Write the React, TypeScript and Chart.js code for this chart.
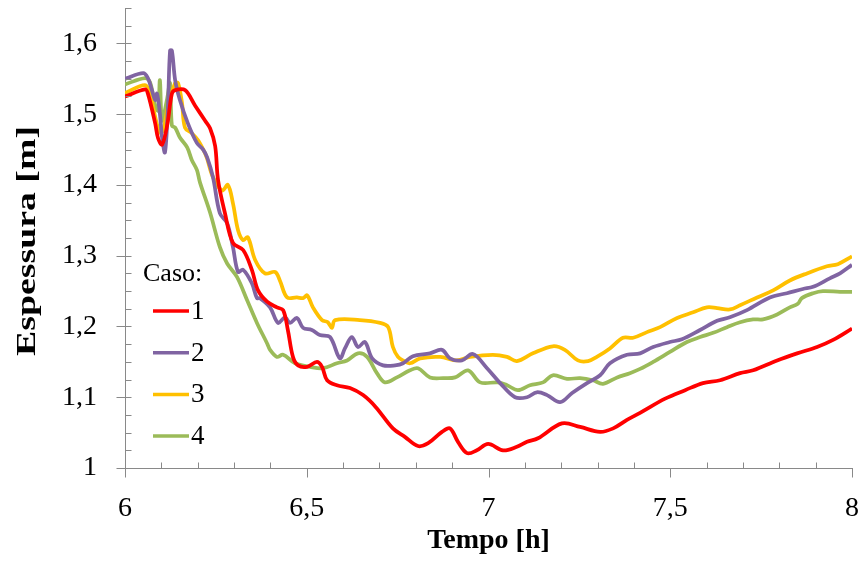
import React, { useEffect, useRef } from "react";
import { Chart, registerables } from "chart.js";

Chart.register(...registerables);

const SERIES_LABELS = ["1", "2", "3", "4"];
const SERIES_COLORS = ["#FF0000", "#8064A2", "#FFC000", "#9BBB59"];
const LEGEND_TITLE = "Caso:";
const X_TITLE = "Tempo [h]";
const Y_TITLE = "Espessura [m]";

const t1 = [6.0, 6.055, 6.063, 6.083, 6.091, 6.102, 6.116, 6.129, 6.138, 6.165, 6.193, 6.22, 6.234, 6.248, 6.256, 6.275, 6.297, 6.325, 6.349, 6.366, 6.391, 6.418, 6.435, 6.448, 6.462, 6.476, 6.501, 6.528, 6.542, 6.556, 6.583, 6.619, 6.655, 6.69, 6.737, 6.77, 6.806, 6.834, 6.872, 6.894, 6.916, 6.941, 6.968, 6.999, 7.04, 7.078, 7.106, 7.136, 7.202, 7.252, 7.307, 7.343, 7.381, 7.417, 7.486, 7.541, 7.59, 7.637, 7.692, 7.728, 7.794, 7.849, 7.904, 7.948, 8.0];
const v1 = [1.525, 1.535, 1.529, 1.487, 1.466, 1.457, 1.484, 1.529, 1.534, 1.534, 1.512, 1.491, 1.48, 1.455, 1.407, 1.36, 1.318, 1.308, 1.28, 1.251, 1.235, 1.227, 1.223, 1.195, 1.157, 1.145, 1.143, 1.15, 1.143, 1.124, 1.117, 1.113, 1.103, 1.086, 1.056, 1.044, 1.031, 1.035, 1.051, 1.056, 1.037, 1.021, 1.025, 1.034, 1.025, 1.03, 1.037, 1.042, 1.063, 1.058, 1.051, 1.056, 1.068, 1.078, 1.098, 1.11, 1.12, 1.124, 1.134, 1.138, 1.152, 1.162, 1.171, 1.181, 1.197];

const t2 = [6.0, 6.05, 6.063, 6.074, 6.083, 6.088, 6.096, 6.102, 6.11, 6.118, 6.124, 6.129, 6.138, 6.151, 6.173, 6.198, 6.215, 6.226, 6.242, 6.261, 6.281, 6.297, 6.311, 6.325, 6.349, 6.363, 6.371, 6.399, 6.421, 6.44, 6.454, 6.473, 6.49, 6.514, 6.536, 6.564, 6.591, 6.605, 6.624, 6.641, 6.66, 6.68, 6.71, 6.743, 6.765, 6.792, 6.839, 6.872, 6.894, 6.927, 6.957, 6.996, 7.032, 7.073, 7.106, 7.133, 7.161, 7.197, 7.23, 7.271, 7.307, 7.334, 7.381, 7.417, 7.453, 7.499, 7.532, 7.582, 7.629, 7.664, 7.711, 7.774, 7.821, 7.865, 7.893, 7.939, 7.967, 8.0];
const v2 = [1.55, 1.558, 1.551, 1.534, 1.52, 1.529, 1.501, 1.467, 1.446, 1.51, 1.59, 1.59, 1.548, 1.52, 1.487, 1.459, 1.45, 1.439, 1.411, 1.36, 1.346, 1.312, 1.277, 1.28, 1.261, 1.24, 1.24, 1.227, 1.205, 1.213, 1.205, 1.212, 1.198, 1.195, 1.188, 1.185, 1.155, 1.169, 1.185, 1.171, 1.178, 1.155, 1.145, 1.145, 1.148, 1.158, 1.162, 1.167, 1.155, 1.152, 1.161, 1.141, 1.12, 1.1, 1.1, 1.107, 1.103, 1.093, 1.106, 1.12, 1.131, 1.148, 1.16, 1.162, 1.171, 1.178, 1.182, 1.195, 1.208, 1.213, 1.223, 1.241, 1.247, 1.253, 1.256, 1.268, 1.275, 1.287];

const t3 = [6.0, 6.055, 6.069, 6.083, 6.096, 6.105, 6.118, 6.138, 6.146, 6.157, 6.165, 6.184, 6.201, 6.22, 6.226, 6.242, 6.267, 6.283, 6.297, 6.311, 6.325, 6.338, 6.358, 6.385, 6.413, 6.426, 6.446, 6.473, 6.49, 6.501, 6.517, 6.542, 6.558, 6.569, 6.578, 6.646, 6.702, 6.724, 6.737, 6.751, 6.765, 6.784, 6.812, 6.867, 6.913, 6.949, 7.012, 7.051, 7.078, 7.122, 7.177, 7.21, 7.246, 7.274, 7.298, 7.334, 7.37, 7.398, 7.436, 7.472, 7.519, 7.563, 7.601, 7.629, 7.664, 7.692, 7.739, 7.783, 7.829, 7.876, 7.931, 7.961, 8.0];
const v3 = [1.53, 1.541, 1.529, 1.496, 1.474, 1.477, 1.51, 1.544, 1.544, 1.515, 1.481, 1.473, 1.463, 1.445, 1.437, 1.411, 1.392, 1.4, 1.374, 1.336, 1.322, 1.326, 1.294, 1.275, 1.277, 1.265, 1.241, 1.241, 1.24, 1.244, 1.227, 1.209, 1.206, 1.198, 1.209, 1.209, 1.205, 1.199, 1.171, 1.157, 1.152, 1.148, 1.155, 1.157, 1.152, 1.157, 1.16, 1.157, 1.151, 1.162, 1.172, 1.167, 1.152, 1.151, 1.157, 1.169, 1.184, 1.184, 1.192, 1.199, 1.212, 1.22, 1.227, 1.226, 1.224, 1.23, 1.241, 1.251, 1.265, 1.275, 1.285, 1.288, 1.299];

const t4 = [6.0, 6.055, 6.069, 6.083, 6.091, 6.096, 6.102, 6.116, 6.124, 6.129, 6.138, 6.151, 6.171, 6.184, 6.198, 6.206, 6.234, 6.261, 6.281, 6.308, 6.336, 6.363, 6.391, 6.399, 6.418, 6.435, 6.468, 6.509, 6.545, 6.583, 6.611, 6.641, 6.666, 6.693, 6.715, 6.748, 6.784, 6.806, 6.839, 6.875, 6.908, 6.944, 6.977, 7.026, 7.051, 7.081, 7.114, 7.15, 7.177, 7.216, 7.252, 7.287, 7.315, 7.354, 7.389, 7.417, 7.453, 7.499, 7.546, 7.582, 7.618, 7.656, 7.692, 7.728, 7.755, 7.794, 7.829, 7.851, 7.862, 7.893, 7.92, 7.967, 8.0];
const v4 = [1.542, 1.551, 1.545, 1.512, 1.505, 1.548, 1.491, 1.522, 1.544, 1.484, 1.481, 1.467, 1.453, 1.435, 1.421, 1.404, 1.361, 1.312, 1.289, 1.27, 1.237, 1.205, 1.176, 1.167, 1.157, 1.16, 1.148, 1.143, 1.141, 1.148, 1.152, 1.162, 1.157, 1.134, 1.121, 1.128, 1.138, 1.141, 1.128, 1.127, 1.128, 1.138, 1.121, 1.121, 1.117, 1.11, 1.117, 1.121, 1.131, 1.126, 1.127, 1.124, 1.119, 1.128, 1.134, 1.14, 1.15, 1.164, 1.178, 1.185, 1.191, 1.199, 1.206, 1.21, 1.21, 1.217, 1.227, 1.232, 1.24, 1.247, 1.25, 1.249, 1.249];

const TIMES = [t1, t2, t3, t4];
const VALUES = [v1, v2, v3, v4];

const X_MIN = 6;
const X_MAX = 8;
const X_STEP = 0.5;
const X_MINOR = 0.1;
const Y_MIN = 1;
const Y_MAX = 1.65;
const Y_STEP = 0.1;
const Y_MINOR = 0.025;

const FONT = "'Liberation Serif', 'Times New Roman', serif";
const AXIS_COLOR = "#898989";

const fmt = (v: number, d: number) => {
  const r = Math.round(v * Math.pow(10, d)) / Math.pow(10, d);
  return String(r).replace(".", ",");
};

const tickPlugin = {
  id: "customTicks",
  afterDraw(chart: any) {
    const ctx = chart.ctx;
    const xs = chart.scales.x;
    const ys = chart.scales.y;
    const area = chart.chartArea;
    ctx.save();
    ctx.strokeStyle = AXIS_COLOR;
    ctx.lineWidth = 1;
    const left = Math.round(area.left) + 0.5;
    const bottom = Math.round(area.bottom) + 0.5;
    const nY = Math.round((Y_MAX - Y_MIN) / Y_MINOR);
    for (let i = 0; i <= nY; i++) {
      const v = Y_MIN + i * Y_MINOR;
      const py = Math.round(ys.getPixelForValue(v)) + 0.5;
      const major = i % 4 === 0;
      ctx.beginPath();
      ctx.moveTo(major ? left - 9 : left, py);
      ctx.lineTo(left + 6, py);
      ctx.stroke();
    }
    const nX = Math.round((X_MAX - X_MIN) / X_MINOR);
    for (let i = 0; i <= nX; i++) {
      const v = X_MIN + i * X_MINOR;
      const px = Math.round(xs.getPixelForValue(v)) + 0.5;
      const major = i % 5 === 0;
      ctx.beginPath();
      if (major) {
        ctx.moveTo(px, bottom);
        ctx.lineTo(px, bottom + 9);
      } else {
        ctx.moveTo(px, bottom);
        ctx.lineTo(px, bottom - 6);
      }
      ctx.stroke();
    }
    // y axis title (stretched along its length as in the reference)
    ctx.fillStyle = "#000";
    ctx.font = `bold 28px ${FONT}`;
    ctx.textAlign = "center";
    ctx.textBaseline = "middle";
    ctx.translate(28, (area.top + area.bottom) / 2 + 3);
    ctx.rotate(-Math.PI / 2);
    ctx.scale(1.35, 1);
    ctx.fillText(Y_TITLE, 0, 0);
    ctx.restore();
  },
};

const legendPlugin = {
  id: "insideLegend",
  afterDraw(chart: any) {
    const ctx = chart.ctx;
    ctx.save();
    ctx.fillStyle = "#000";
    ctx.textBaseline = "middle";
    ctx.textAlign = "left";
    ctx.font = `26px ${FONT}`;
    ctx.fillText(LEGEND_TITLE, 143, 274);
    chart.data.datasets.forEach((ds: any, i: number) => {
      const y = 311 + i * 41.7;
      ctx.strokeStyle = ds.borderColor;
      ctx.lineWidth = 3.5;
      ctx.beginPath();
      ctx.moveTo(153, y);
      ctx.lineTo(189, y);
      ctx.stroke();
      ctx.fillStyle = "#000";
      ctx.font = `27px ${FONT}`;
      ctx.fillText(ds.label, 191, y + 1);
    });
    ctx.restore();
  },
};

export default function App() {
  const ref = useRef<HTMLCanvasElement | null>(null);
  useEffect(() => {
    if (!ref.current) return;
    const datasets = SERIES_LABELS.map((label, i) => ({
      label,
      data: TIMES[i].map((t, j) => ({ x: t, y: VALUES[i][j] })),
      borderColor: SERIES_COLORS[i],
      backgroundColor: SERIES_COLORS[i],
      borderWidth: 3.75,
      pointRadius: 0,
      tension: 0.35,
      fill: false,
    }));
    const chart = new Chart(ref.current, {
      type: "line",
      data: { datasets },
      plugins: [tickPlugin, legendPlugin],
      options: {
        animation: false,
        responsive: false,
        layout: { autoPadding: false, padding: { left: 0, right: 8, top: 8, bottom: 0 } },
        plugins: { legend: { display: false }, tooltip: { enabled: false } },
        scales: {
          x: {
            type: "linear",
            min: X_MIN,
            max: X_MAX,
            grid: { display: false, drawTicks: false },
            border: { display: true, color: AXIS_COLOR, width: 1 },
            ticks: {
              stepSize: X_STEP,
              padding: 24,
              color: "#000",
              font: { family: FONT, size: 28 },
              callback: (v: any) => fmt(Number(v), 1),
              maxRotation: 0,
            },
            title: {
              display: true,
              text: X_TITLE,
              color: "#000",
              font: { family: FONT, size: 28, weight: "bold" },
              padding: { top: 0, bottom: 6 },
            },
            afterFit: (s: any) => {
              s.height = 96;
              s.paddingLeft = 0;
              s.paddingRight = 0;
            },
          },
          y: {
            type: "linear",
            min: Y_MIN,
            max: Y_MAX,
            grid: { display: false, drawTicks: false },
            border: { display: true, color: AXIS_COLOR, width: 1 },
            ticks: {
              stepSize: Y_STEP,
              includeBounds: false,
              padding: 28,
              color: "#000",
              font: { family: FONT, size: 28 },
              callback: (v: any) => {
                const n = Number(v);
                if (n > 1.6001) return "";
                return fmt(n, 1);
              },
            },
            title: { display: false },
            afterFit: (s: any) => {
              s.width = 125;
              s.paddingTop = 0;
              s.paddingBottom = 0;
            },
          },
        },
      } as any,
    });
    return () => chart.destroy();
  }, []);
  return (
    <div style={{ position: "fixed", left: 0, top: 0, width: 860, height: 564, background: "#fff" }}>
      <canvas ref={ref} width={860} height={564} style={{ display: "block" }} />
    </div>
  );
}
